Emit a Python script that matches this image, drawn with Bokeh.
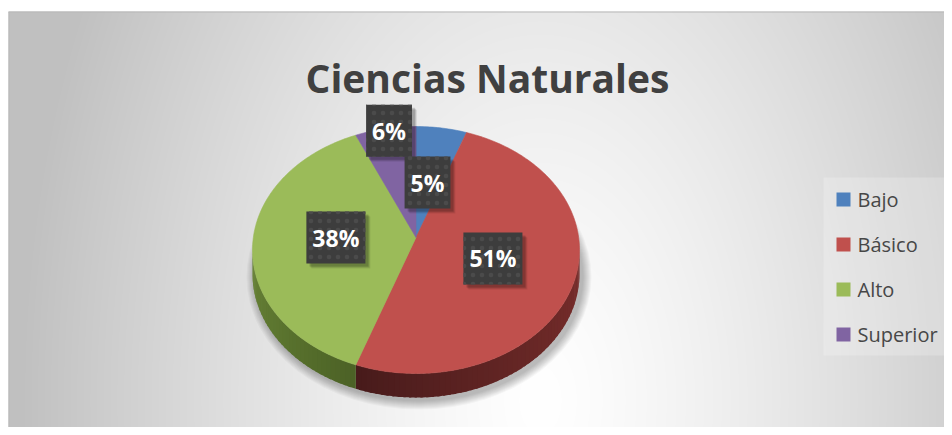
import numpy as np
from bokeh.plotting import figure
from bokeh.models import Range1d
from bokeh.core.properties import value
from bokeh.embed import file_html
from bokeh.resources import INLINE

# ---------------- data ----------------
TITLE = "Ciencias Naturales"
categories = ["Bajo", "Básico", "Alto", "Superior"]
percents = [5, 51, 38, 6]
labels = ["5%", "51%", "38%", "6%"]

# ---------------- style / layout ----------------
top_colors = ["#4F81BD", "#C0504D", "#9BBB59", "#8064A2"]
side_dark = ["#2c4a70", "#481b1b", "#4a6025", "#47375c"]
side_light = ["#45709f", "#7a2e2c", "#789640", "#6d5590"]
label_r = [0.45, 0.50, 0.49, 0.88]
FONT = value("Open Sans")

W, H = 944, 427


def Y(py):
    """pixel row of the picture -> data y (y up)"""
    return H - py


CX, CY = 415.5, Y(249.5)
RX, RY = 163.5, 123.5
APEX_Y = Y(237)
DEPTH = 24

p = figure(width=W, height=H, x_range=Range1d(0, W), y_range=Range1d(0, H),
           x_axis_type=None, y_axis_type=None, min_border=0,
           toolbar_location=None, output_backend="svg")
p.grid.visible = False
p.outline_line_color = None
p.background_fill_color = "white"
p.border_fill_color = "white"

# ---------------- background radial gradient ----------------
x0, y0 = 8, 11
nx, ny = W - x0, H - y0
xs = x0 + np.arange(nx) + 0.5
ys = H - (np.arange(ny) + 0.5)
GX, GY = np.meshgrid(xs, ys)
rr = np.sqrt(((GX - 540) / 490.0) ** 2 + ((GY - 400) / 800.0) ** 2)
bright = 255 - 58 * np.clip(rr, 0, 1.1) ** 1.3
bright = np.clip(bright, 192, 255).astype(np.uint32)
img = (np.uint32(255) << 24) | (bright << 16) | (bright << 8) | bright
p.image_rgba(image=[img.astype(np.uint32)], x=x0, y=0, dw=nx, dh=ny)

# chart border (top / left)
p.segment(x0=[x0, x0 + 0.5], y0=[Y(y0 + 0.5), Y(y0 + 0.5)], x1=[W, x0 + 0.5], y1=[Y(y0 + 0.5), 0],
          line_color="#b8b8b8", line_width=1)

# ---------------- title ----------------
p.text(x=[487], y=[Y(77)], text=[TITLE], text_font=FONT, text_font_style="bold",
       text_font_size="39px", text_color="#404040", text_align="center",
       text_baseline="alphabetic")

# ---------------- pie geometry from the data ----------------
total = float(sum(percents))
fracs = [v / total for v in percents]
starts = np.concatenate([[0.0], np.cumsum(fracs)[:-1]]) * 360.0
ends = np.cumsum(fracs) * 360.0


def ex(t):
    return CX + RX * np.sin(np.radians(t))


def ey(t):
    return CY + RY * np.cos(np.radians(t))


def hexmix(c1, c2, f):
    a = [int(c1[i:i + 2], 16) for i in (1, 3, 5)]
    b = [int(c2[i:i + 2], 16) for i in (1, 3, 5)]
    m = [round(a[k] + (b[k] - a[k]) * f) for k in range(3)]
    return "#%02x%02x%02x" % tuple(m)


# soft shadow under the pie
for k in range(1, 10):
    p.ellipse(x=CX + 3, y=CY - DEPTH - 3, width=2 * (RX + k), height=2 * (RY + k),
              fill_color="black", fill_alpha=0.03, line_color=None)

# side walls (front half only), shaded in thin overlapping strips
side_xs, side_ys, side_cols = [], [], []
for i in range(len(percents)):
    a, b = max(starts[i], 90.0), min(ends[i], 270.0)
    if a >= b:
        continue
    n = max(1, int(np.ceil((b - a) / 2.0)))
    edges = np.linspace(a, b, n + 1)
    for s, e in zip(edges[:-1], edges[1:]):
        e2 = min(e + 0.8, b)
        tt = np.linspace(s, e2, 4)
        px = list(ex(tt)) + list(ex(tt[::-1]))
        py = list(ey(tt)) + list(ey(tt[::-1]) - DEPTH)
        mid = 0.5 * (s + e)
        f = min(1.0, abs(mid - 200.0) / 110.0) ** 0.9
        side_xs.append(px)
        side_ys.append(py)
        side_cols.append(hexmix(side_dark[i], side_light[i], f))
p.patches(xs=side_xs, ys=side_ys, fill_color=side_cols, line_color=None)

# top faces
top_xs, top_ys = [], []
for i in range(len(percents)):
    tt = np.linspace(starts[i], ends[i], max(3, int((ends[i] - starts[i]) / 1.0) + 2))
    top_xs.append([CX] + list(ex(tt)))
    top_ys.append([APEX_Y] + list(ey(tt)))
p.patches(xs=top_xs, ys=top_ys, fill_color=top_colors, line_color=top_colors,
          line_width=0.6)

# ---------------- data labels ----------------
mids = 0.5 * (starts + ends)
lx = [CX + label_r[i] * RX * np.sin(np.radians(mids[i])) for i in range(len(percents))]
ly = [APEX_Y + label_r[i] * RY * np.cos(np.radians(mids[i])) for i in range(len(percents))]

for off, alpha in ((5, 0.08), (4, 0.12), (3, 0.15)):
    p.text(x=[v + off for v in lx], y=[v - off for v in ly], text=labels,
           text_font=FONT, text_font_style="bold", text_font_size="23px",
           text_alpha=0.0, text_align="center", text_baseline="middle",
           background_fill_color="black", background_fill_alpha=alpha,
           padding=(6, 10))

p.text(x=lx, y=ly, text=labels, text_font=FONT, text_font_style="bold",
       text_font_size="23px", text_color="white", text_align="center",
       text_baseline="middle", background_fill_color="#3d3d3d",
       background_hatch_pattern="dot", background_hatch_color="#4b4b4b",
       background_hatch_scale=9, background_hatch_weight=1,
       padding=(6, 10))

# ---------------- legend ----------------
p.quad(left=[823], right=[W], top=[Y(177)], bottom=[Y(355)], fill_color="white",
       fill_alpha=0.22, line_color=None)
leg_y = [Y(199 + 45 * i) for i in range(len(categories))]
p.scatter(x=[843] * len(categories), y=leg_y, marker="square", size=14,
          fill_color=top_colors, line_color=None)
p.text(x=[857] * len(categories), y=leg_y, text=categories, text_font=FONT,
       text_font_size="20px", text_color="#474747", text_align="left",
       text_baseline="middle")

open("out.html", "w").write(file_html(p, INLINE))
